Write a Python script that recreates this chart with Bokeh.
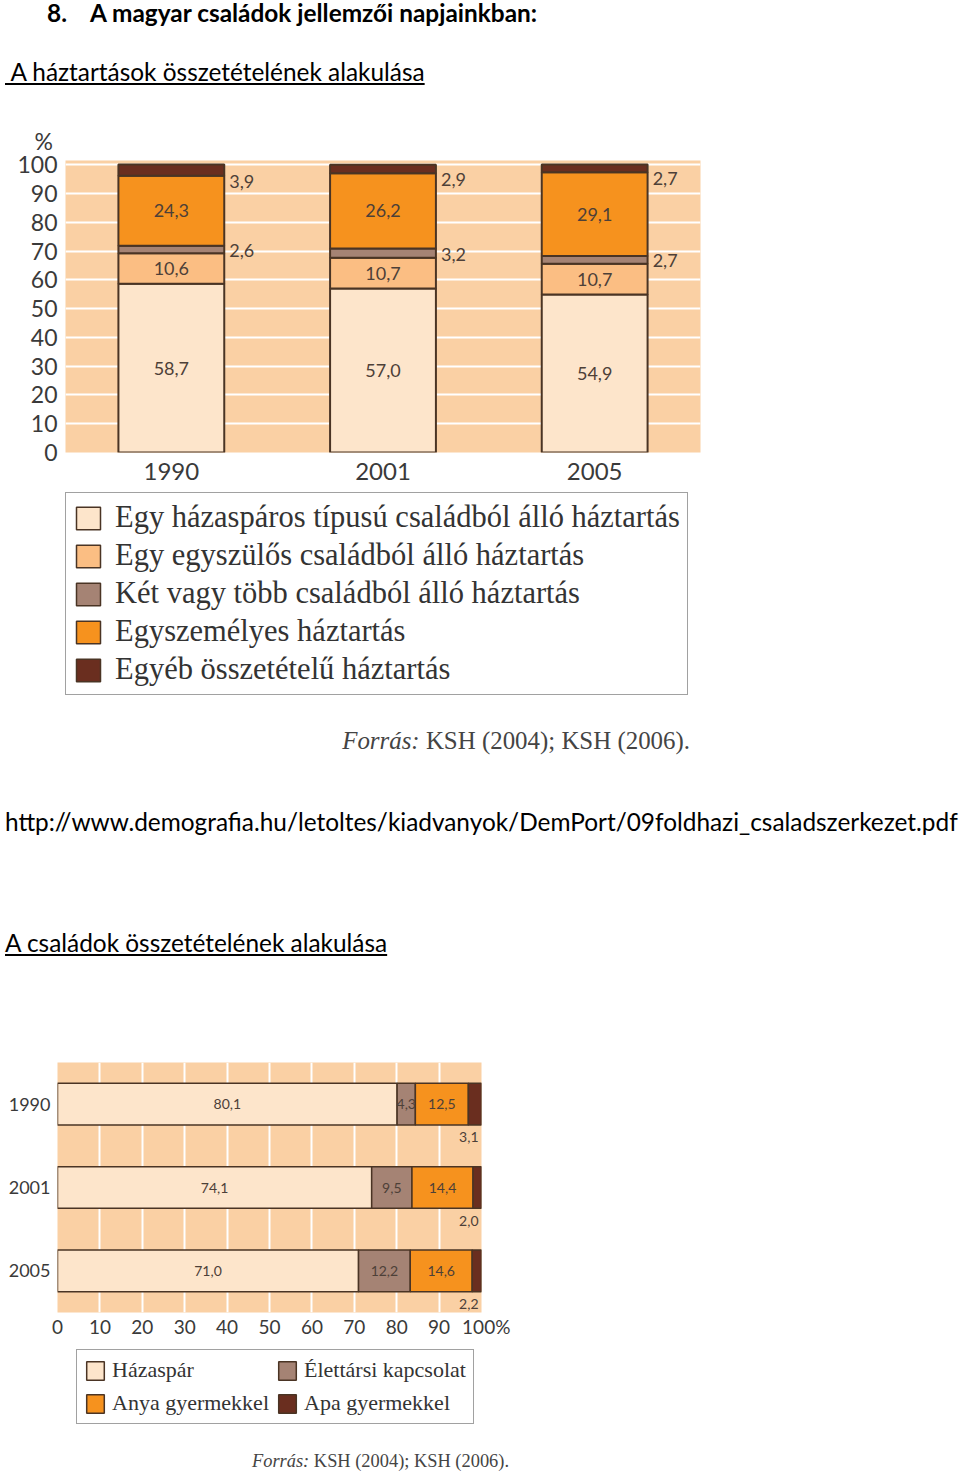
from bokeh.plotting import figure
from bokeh.models import (ColumnDataSource, FactorRange, Range1d, FixedTicker,
                          Legend, LegendItem, Title, Div)
from bokeh.core.properties import value
from bokeh.embed import file_html
from bokeh.resources import INLINE

# ---------------- data: chart 1 (households) ----------------
years = ["1990", "2001", "2005"]
hh_labels = ["Egy házaspáros típusú családból álló háztartás",
             "Egy egyszülős családból álló háztartás",
             "Két vagy több családból álló háztartás",
             "Egyszemélyes háztartás",
             "Egyéb összetételű háztartás"]
hh_couple = [58.7, 57.0, 54.9]
hh_single_parent = [10.6, 10.7, 10.7]
hh_multi = [2.6, 3.2, 2.7]
hh_one_person = [24.3, 26.2, 29.1]
hh_other = [3.9, 2.9, 2.7]
y_ticks1 = [0, 10, 20, 30, 40, 50, 60, 70, 80, 90, 100]

# ---------------- data: chart 2 (families) ----------------
fam_labels = ["Házaspár", "Élettársi kapcsolat", "Anya gyermekkel", "Apa gyermekkel"]
fam_married = [80.1, 74.1, 71.0]
fam_cohab = [4.3, 9.5, 12.2]
fam_mother = [12.5, 14.4, 14.6]
fam_father = [3.1, 2.0, 2.2]
x_ticks2 = [0, 10, 20, 30, 40, 50, 60, 70, 80, 90, 100]

# ---------------- styles ----------------
PEACH = "#FAD0A4"
C_LIGHT = "#FDE5CB"
C_LORANGE = "#FBBE83"
C_GREYBROWN = "#A58374"
C_ORANGE = "#F6921E"
C_DARK = "#6A2E1F"
OUTLINE = "#4A3424"
TXT = "#3a3a3a"
VALTXT = "#4d4038"
NUMFONT = "Lato"
SERIF = "Liberation Serif"
PAGEFONT = "Lato"


def fmt(v):
    return f"{v:.1f}".replace(".", ",")


# ================= chart 1 =================
series1 = [hh_couple, hh_single_parent, hh_multi, hh_one_person, hh_other]
keys1 = ["s0", "s1", "s2", "s3", "s4"]
colors1 = [C_LIGHT, C_LORANGE, C_GREYBROWN, C_ORANGE, C_DARK]
src1 = ColumnDataSource(dict(year=years, **{k: s for k, s in zip(keys1, series1)}))

p1 = figure(width=960, height=390,
            x_range=FactorRange(factors=years, range_padding=0),
            y_range=Range1d(0, 101.5),
            output_backend="svg", toolbar_location=None,
            min_border_left=65, min_border_right=260,
            min_border_top=60, min_border_bottom=38)
p1.background_fill_color = PEACH
p1.border_fill_color = "white"
p1.outline_line_color = None

p1.vbar_stack(keys1, x="year", width=0.5, source=src1,
              fill_color=colors1, line_color=OUTLINE, line_width=2)

inner_x, inner_y, inner_t = [], [], []
out_x, out_y, out_t, out_off = [], [], [], []
for i, yr in enumerate(years):
    bottom = 0.0
    for j, s in enumerate(series1):
        v = s[i]
        if j in (0, 1, 3):
            inner_x.append(yr); inner_y.append(bottom + v / 2); inner_t.append(fmt(v))
        else:
            out_x.append(yr); out_y.append(bottom); out_t.append(fmt(v))
            out_off.append(6 if j == 4 else -3)
        bottom += v

p1.text(x="x", y="y", text="t",
        source=ColumnDataSource(dict(x=inner_x, y=inner_y, t=inner_t)),
        text_font=value(NUMFONT), text_font_size="18px", text_color=VALTXT,
        text_align="center", text_baseline="middle")
p1.text(x="x", y="y", text="t", y_offset="o",
        source=ColumnDataSource(dict(x=out_x, y=out_y, t=out_t, o=out_off)),
        x_offset=58,
        text_font=value(NUMFONT), text_font_size="18px", text_color=VALTXT,
        text_align="left", text_baseline="middle")

p1.xgrid.grid_line_color = None
p1.ygrid.ticker = FixedTicker(ticks=y_ticks1[1:])
p1.ygrid.grid_line_color = "white"
p1.ygrid.grid_line_width = 2

p1.yaxis.ticker = FixedTicker(ticks=y_ticks1)
for ax in (p1.xaxis[0], p1.yaxis[0]):
    ax.axis_line_color = None
    ax.major_tick_line_color = None
    ax.minor_tick_line_color = None
    ax.major_label_text_font = NUMFONT
    ax.major_label_text_color = TXT
p1.yaxis.major_label_text_font_size = "23px"
p1.yaxis.major_label_standoff = 2
p1.xaxis.major_label_text_font_size = "24px"
p1.xaxis.major_label_standoff = 4

p1.add_layout(Title(text="%", align="left", offset=-31, standoff=11,
                    text_font=NUMFONT, text_font_size="23px",
                    text_font_style="normal", text_color=TXT), "above")

# legend for chart 1 (own canvas; hidden copies of the bars feed the swatches)
lg1 = figure(width=960, height=222,
             x_range=FactorRange(factors=years, range_padding=0), y_range=Range1d(0, 100),
             output_backend="svg", toolbar_location=None, min_border=0,
             x_axis_location=None, y_axis_location=None)
lg1.grid.visible = False
lg1.outline_line_color = None
lg1_r = lg1.vbar_stack(keys1, x="year", width=0.5, source=src1,
                       fill_color=colors1, line_color=OUTLINE, line_width=1.5)
for r in lg1_r:
    r.visible = False
leg1 = Legend(items=[LegendItem(label=l, renderers=[r]) for l, r in zip(hh_labels, lg1_r)],
              location=(65, 17), orientation="vertical",
              glyph_width=30, glyph_height=28, label_height=28,
              label_text_font=SERIF, label_text_font_size="30.5px",
              label_text_color="#333333", label_standoff=12,
              spacing=3, padding=7, margin=0,
              inactive_fill_alpha=0,
              border_line_color="#444444", border_line_width=1.5,
              background_fill_color="white", background_fill_alpha=1)
lg1.add_layout(leg1)

# ================= chart 2 =================
series2 = [fam_married, fam_cohab, fam_mother, fam_father]
keys2 = ["f0", "f1", "f2", "f3"]
colors2 = [C_LIGHT, C_GREYBROWN, C_ORANGE, C_DARK]
src2 = ColumnDataSource(dict(year=years, **{k: s for k, s in zip(keys2, series2)}))

p2 = figure(width=960, height=345,
            y_range=FactorRange(factors=years[::-1], range_padding=0),
            x_range=Range1d(0, 100),
            output_backend="svg", toolbar_location=None,
            min_border_left=57, min_border_right=479,
            min_border_top=62, min_border_bottom=33)
p2.background_fill_color = PEACH
p2.border_fill_color = "white"
p2.outline_line_color = None

p2.hbar_stack(keys2, y="year", height=0.5, source=src2,
              fill_color=colors2, line_color=OUTLINE, line_width=1.5)

in2_x, in2_y, in2_t, o2_x, o2_y, o2_t = [], [], [], [], [], []
for i, yr in enumerate(years):
    left = 0.0
    for j, s in enumerate(series2):
        v = s[i]
        if j < 3:
            in2_x.append(left + v / 2); in2_y.append(yr); in2_t.append(fmt(v))
        else:
            o2_x.append(left + v); o2_y.append(yr); o2_t.append(fmt(v))
        left += v

p2.text(x="x", y="y", text="t",
        source=ColumnDataSource(dict(x=in2_x, y=in2_y, t=in2_t)),
        text_font=value(NUMFONT), text_font_size="14px", text_color=VALTXT,
        text_align="center", text_baseline="middle")
p2.text(x="x", y="y", text="t",
        source=ColumnDataSource(dict(x=o2_x, y=o2_y, t=o2_t)),
        x_offset=-3, y_offset=33,
        text_font=value(NUMFONT), text_font_size="14px", text_color=VALTXT,
        text_align="right", text_baseline="middle")

p2.ygrid.grid_line_color = None
p2.xgrid.ticker = FixedTicker(ticks=x_ticks2[1:-1])
p2.xgrid.grid_line_color = "white"
p2.xgrid.grid_line_width = 2

p2.xaxis.ticker = FixedTicker(ticks=x_ticks2)
p2.xaxis.major_label_overrides = {100: "\u2002100%"}
for ax in (p2.xaxis[0], p2.yaxis[0]):
    ax.axis_line_color = None
    ax.major_tick_line_color = None
    ax.minor_tick_line_color = None
    ax.major_label_text_font = NUMFONT
    ax.major_label_text_color = TXT
p2.xaxis.major_label_text_font_size = "19px"
p2.xaxis.major_label_standoff = -4
p2.yaxis.major_label_text_font_size = "18px"
p2.yaxis.major_label_standoff = 1

lg2 = figure(width=960, height=95,
             y_range=FactorRange(factors=years[::-1], range_padding=0), x_range=Range1d(0, 100),
             output_backend="svg", toolbar_location=None, min_border=0,
             x_axis_location=None, y_axis_location=None)
lg2.grid.visible = False
lg2.outline_line_color = None
lg2_r = lg2.hbar_stack(keys2, y="year", height=0.5, source=src2,
                       fill_color=colors2, line_color=OUTLINE, line_width=1.5)
for r in lg2_r:
    r.visible = False
leg2 = Legend(items=[LegendItem(label=l, renderers=[r]) for l, r in zip(fam_labels, lg2_r)],
              location=(76, 16), orientation="horizontal", nrows=2,
              glyph_width=22, glyph_height=23, label_height=23,
              label_text_font=SERIF, label_text_font_size="22px",
              label_text_color="#333333", label_standoff=6,
              spacing=7, padding=7, margin=0,
              inactive_fill_alpha=0,
              border_line_color="#444444", border_line_width=1.5,
              background_fill_color="white", background_fill_alpha=1)
lg2.add_layout(leg2)


# ================= page texts =================
def text_div(html, h):
    return Div(text=f'<div style="position:relative;width:960px;height:{h}px;">{html}</div>',
               width=960, height=h, margin=(0, 0, 0, 0))


FS = "24.4px"
header = text_div(
    f'<div style="position:absolute;left:47px;top:0px;font-family:{PAGEFONT};font-size:{FS};'
    'line-height:26px;font-weight:bold;color:#000;">8.</div>'
    f'<div style="position:absolute;left:90px;top:0px;font-family:{PAGEFONT};font-size:{FS};'
    'line-height:26px;font-weight:bold;color:#000;white-space:nowrap;">A magyar családok jellemzői napjainkban:</div>'
    f'<div style="position:absolute;left:5px;top:59px;font-family:{PAGEFONT};font-size:{FS};'
    'line-height:26px;color:#000;text-decoration:underline;white-space:pre;"> A háztartások összetételének alakulása</div>',
    100)

source1 = text_div(
    f'<div style="position:absolute;right:270px;top:17px;font-family:{SERIF};font-size:24.9px;'
    'line-height:24px;color:#444;white-space:nowrap;"><i>Forrás:</i> KSH (2004); KSH (2006).</div>',
    58)

url = text_div(
    f'<div style="position:absolute;left:5px;top:39px;font-family:{PAGEFONT};font-size:{FS};'
    'line-height:26px;color:#000;white-space:nowrap;">'
    'http://www.demografia.hu/letoltes/kiadvanyok/DemPort/09foldhazi_csaladszerkezet.pdf</div>',
    110)

title2 = text_div(
    f'<div style="position:absolute;left:5px;top:50px;font-family:{PAGEFONT};font-size:{FS};'
    'line-height:26px;color:#000;text-decoration:underline;white-space:nowrap;">'
    'A családok összetételének alakulása</div>',
    120)

source2 = text_div(
    f'<div style="position:absolute;right:451px;top:10px;font-family:{SERIF};font-size:18.4px;'
    'line-height:22px;color:#444;white-space:nowrap;"><i>Forrás:</i> KSH (2004); KSH (2006).</div>',
    35)

roots = [header, p1, lg1, source1, url, title2, p2, lg2, source2]
html = file_html(roots, INLINE, title="A magyar családok jellemzői")
html = html.replace("<head>", "<head><style>html,body{margin:0;padding:0;}</style>", 1)
open("out.html", "w").write(html)
